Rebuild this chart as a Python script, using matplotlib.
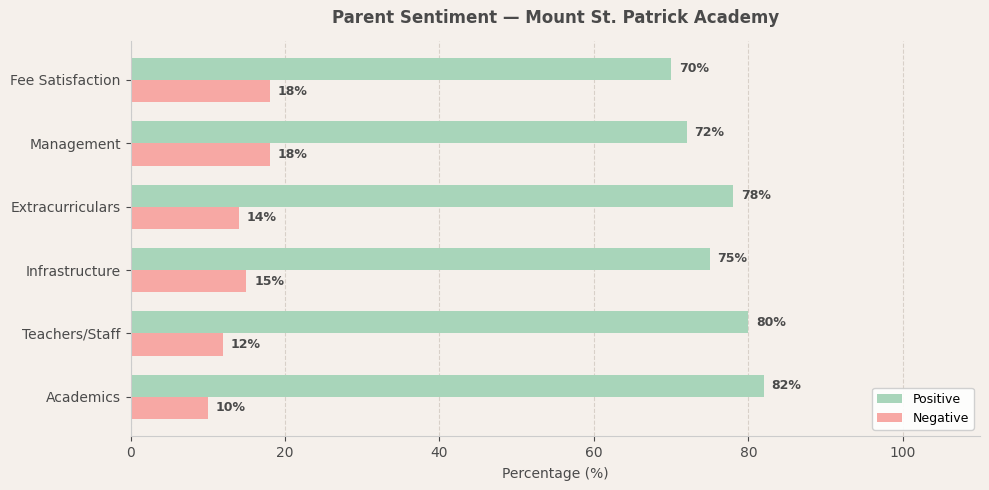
import matplotlib.pyplot as plt
import numpy as np

categories = ["Academics", "Teachers/Staff", "Infrastructure",
              "Extracurriculars", "Management", "Fee Satisfaction"]
positive = [82, 80, 75, 78, 72, 70]
negative = [10, 12, 15, 14, 18, 18]

bg = '#f5f0eb'
text_col = '#4a4a4a'

fig, ax = plt.subplots(figsize=(9.89, 4.9), dpi=100)
fig.patch.set_facecolor(bg)
ax.set_facecolor(bg)

y = np.arange(len(categories))
h = 0.35
pos_bars = ax.barh(y + h / 2, positive, h, color='#a8d5ba', label='Positive')
neg_bars = ax.barh(y - h / 2, negative, h, color='#f7a8a4', label='Negative')

for bars in (pos_bars, neg_bars):
    for b in bars:
        ax.text(b.get_width() + 1, b.get_y() + b.get_height() / 2,
                f"{b.get_width():.0f}%", va='center', ha='left',
                fontsize=9, fontweight='bold', color=text_col)

ax.set_yticks(y)
ax.set_yticklabels(categories, fontsize=10, color=text_col)
ax.set_xlim(0, 110)
ax.set_ylim(-0.62, 5.62)
ax.tick_params(axis='x', colors=text_col, labelsize=10)
ax.tick_params(axis='y', colors=text_col)
ax.set_xlabel("Percentage (%)", fontsize=10, color=text_col, labelpad=5)
ax.set_title("Parent Sentiment — Mount St. Patrick Academy", fontsize=12,
             fontweight='bold', color=text_col, pad=13)

ax.grid(axis='x', linestyle='--', color='#d8d0c8', linewidth=0.8)
ax.set_axisbelow(True)
for s in ('top', 'right'):
    ax.spines[s].set_visible(False)
for s in ('left', 'bottom'):
    ax.spines[s].set_color('#cccccc')

ax.legend(loc='lower right', fontsize=9, facecolor='white', framealpha=0.9)

plt.subplots_adjust(left=0.132, right=0.991, top=0.917, bottom=0.11)
plt.savefig('out.png', facecolor=bg)
